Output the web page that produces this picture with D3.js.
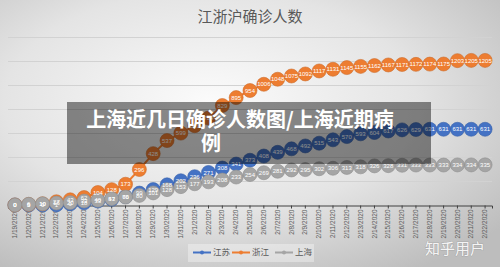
<!DOCTYPE html>
<html>
<head>
<meta charset="utf-8">
<script src="https://cdn.jsdelivr.net/npm/d3@7"></script>
<style>
  body { margin: 0; padding: 0; }
  svg { display: block; font-family: "Noto Sans CJK SC", "Noto Sans", sans-serif; }
</style>
</head>
<body>
<div id="chart"></div>
<script>
// dates on the x axis
const dates = [
  "1/19/2020", "1/20/2020", "1/21/2020", "1/22/2020", "1/23/2020", "1/24/2020", "1/25/2020",
  "1/26/2020", "1/27/2020", "1/28/2020", "1/29/2020", "1/30/2020", "1/31/2020",
  "2/1/2020", "2/2/2020", "2/3/2020", "2/4/2020", "2/5/2020", "2/6/2020", "2/7/2020",
  "2/8/2020", "2/9/2020", "2/10/2020", "2/11/2020", "2/12/2020", "2/13/2020", "2/14/2020",
  "2/15/2020", "2/16/2020", "2/17/2020", "2/18/2020", "2/19/2020", "2/20/2020",
  "2/21/2020", "2/22/2020"
];

// cumulative confirmed cases
const jiangsu = [
  0, 0, 0, 1, 9, 18, 33, 47, 70, 99, 129, 168, 202,
  236, 271, 308, 341, 373, 408, 439, 468, 492, 515, 543, 570, 593, 604,
  617, 626, 629, 631, 631, 631, 631, 631
];
const zhejiang = [
  0, 5, 10, 27, 43, 62, 104, 128, 173, 296, 428, 537, 599,
  661, 724, 829, 895, 954, 1006, 1048, 1075, 1092, 1117, 1131, 1145, 1155, 1162,
  1167, 1171, 1172, 1174, 1175, 1203, 1205, 1205
];
const shanghai = [
  0, 6, 10, 16, 20, 33, 40, 53, 66, 80, 101, 128, 153,
  177, 193, 208, 233, 254, 269, 281, 292, 295, 302, 306, 313, 318, 326,
  328, 331, 333, 333, 333, 334, 334, 335
];

const seriesNames = ["江苏", "浙江", "上海"];
const yTicks = [0, 200, 400, 600, 800, 1000, 1200, 1400];

const W = 500, H = 267;
const colors = ["#4472c4", "#ed7d31", "#a5a5a5"];

const svg = d3.select("#chart").append("svg")
  .attr("width", W)
  .attr("height", H);

// background gradient
const defs = svg.append("defs");
const grad = defs.append("radialGradient")
  .attr("id", "bg")
  .attr("cx", "42%").attr("cy", "38%").attr("r", "75%");
grad.append("stop").attr("offset", "0%").attr("stop-color", "#fbfbfb");
grad.append("stop").attr("offset", "55%").attr("stop-color", "#e4e4e4");
grad.append("stop").attr("offset", "100%").attr("stop-color", "#bdbdbd");

svg.append("rect")
  .attr("width", W).attr("height", H)
  .attr("fill", "url(#bg)");

// scales
const x = d3.scaleBand().domain(dates).range([8, 492]);
const y = d3.scaleLinear().domain([0, 1400]).range([205, 37]);
const cx = (d) => x(d) + x.bandwidth() / 2;

// gridlines
svg.append("g")
  .attr("class", "grid")
  .selectAll("line")
  .data(yTicks.slice(1))
  .join("line")
  .attr("x1", 8)
  .attr("x2", 492)
  .attr("y1", (d) => Math.round(y(d)) + 0.5)
  .attr("y2", (d) => Math.round(y(d)) + 0.5)
  .attr("stroke", "#d2d2d2")
  .attr("stroke-width", 1);

// x axis
const xAxis = d3.axisBottom(x).tickSize(3).tickPadding(2);
const xAxisG = svg.append("g")
  .attr("transform", `translate(0,${Math.round(y(0)) + 0.5})`)
  .call(xAxis);
xAxisG.select(".domain").attr("stroke", "#404040");
xAxisG.selectAll(".tick line").attr("stroke", "#404040");
xAxisG.selectAll(".tick text")
  .attr("fill", "#595959")
  .style("font-size", "6.5px")
  .style("font-family", "'Liberation Sans', Arial, sans-serif")
  .attr("text-anchor", "end")
  .attr("transform", "rotate(-90)")
  .attr("dy", "0.32em")
  .attr("x", -4)
  .attr("y", 0);

// title
svg.append("text")
  .attr("x", 250)
  .attr("y", 22)
  .attr("text-anchor", "middle")
  .attr("fill", "#595959")
  .style("font-size", "15px")
  .text("江浙沪确诊人数");

const allSeries = [jiangsu, zhejiang, shanghai];

const line = d3.line()
  .x((d, i) => cx(dates[i]))
  .y((d) => y(d));

// lines + markers
allSeries.forEach((vals, s) => {
  const g = svg.append("g").attr("class", "series-" + s);
  g.append("path")
    .datum(vals)
    .attr("fill", "none")
    .attr("stroke", colors[s])
    .attr("stroke-width", 2)
    .attr("d", line);
  g.selectAll("circle")
    .data(vals)
    .join("circle")
    .attr("cx", (d, i) => cx(dates[i]))
    .attr("cy", (d) => y(d))
    .attr("r", 7)
    .attr("fill", colors[s])
    .attr("stroke", d3.color(colors[s]).darker(0.4))
    .attr("stroke-width", 0.6);
});

// data labels
allSeries.forEach((vals, s) => {
  svg.append("g")
    .selectAll("text")
    .data(vals)
    .join("text")
    .attr("x", (d, i) => cx(dates[i]))
    .attr("y", (d) => y(d))
    .attr("dy", "0.35em")
    .attr("text-anchor", "middle")
    .attr("fill", "#ffffff")
    .style("font-size", "6px")
    .style("font-family", "'Liberation Sans', Arial, sans-serif")
    .text((d) => d);
});

// legend
const legendX = [193, 232, 275];
const legend = svg.append("g");
legend.append("rect")
  .attr("x", 188).attr("y", 244)
  .attr("width", 126).attr("height", 18)
  .attr("fill", "#ffffff")
  .attr("fill-opacity", 0.35);
seriesNames.forEach((name, i) => {
  const lg = legend.append("g").attr("transform", `translate(${legendX[i]},252.5)`);
  lg.append("line")
    .attr("x1", 0).attr("x2", 18)
    .attr("stroke", colors[i]).attr("stroke-width", 2);
  lg.append("circle")
    .attr("cx", 9).attr("r", 2)
    .attr("fill", colors[i]);
  lg.append("text")
    .attr("x", 20)
    .attr("dy", "0.35em")
    .attr("fill", "#595959")
    .style("font-size", "8.5px")
    .text(name);
});

// overlay caption box
svg.append("rect")
  .attr("x", 67).attr("y", 102)
  .attr("width", 364).attr("height", 62)
  .attr("fill", "#000000")
  .attr("fill-opacity", 0.45);

svg.append("text")
  .attr("x", 240).attr("y", 127)
  .attr("text-anchor", "middle")
  .attr("fill", "#ffffff")
  .style("font-size", "20px")
  .style("font-weight", "bold")
  .text("上海近几日确诊人数图/上海近期病");

svg.append("text")
  .attr("x", 211).attr("y", 151)
  .attr("text-anchor", "middle")
  .attr("fill", "#ffffff")
  .style("font-size", "20px")
  .style("font-weight", "bold")
  .text("例");

// watermark
svg.append("text")
  .attr("x", 455).attr("y", 254)
  .attr("text-anchor", "middle")
  .attr("fill", "#ffffff")
  .attr("fill-opacity", 0.9)
  .style("font-size", "15px")
  .style("paint-order", "stroke")
  .attr("stroke", "#888888")
  .attr("stroke-opacity", 0.4)
  .attr("stroke-width", 1)
  .text("知乎用户");
</script>
</body>
</html>
